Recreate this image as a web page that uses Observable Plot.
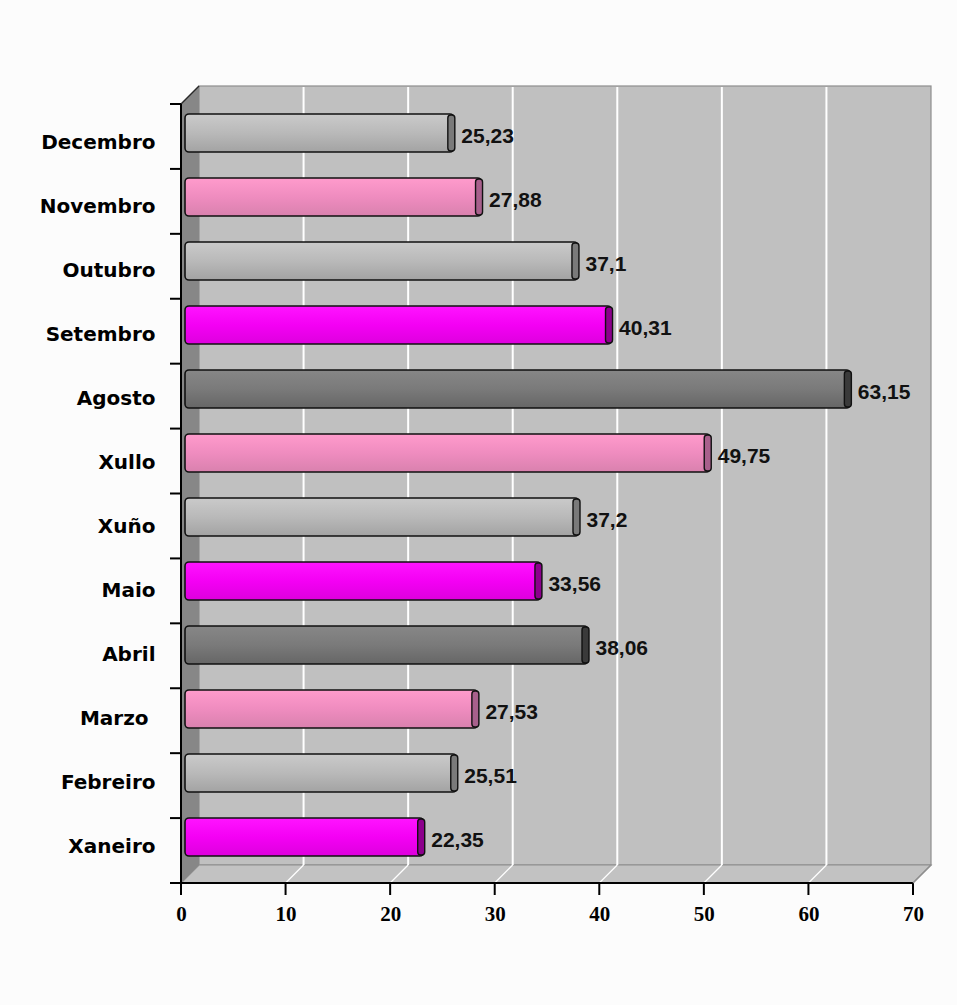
<!DOCTYPE html>
<html>
<head>
<meta charset="utf-8">
<script src="https://cdn.jsdelivr.net/npm/d3@7"></script>
<script src="https://cdn.jsdelivr.net/npm/@observablehq/plot@0.6"></script>
<style>
  html, body { margin: 0; padding: 0; background: #fcfcfc; }
  #chart svg { display: block; }
  #chart [aria-label^="y-axis"] text {
    font-family: "DejaVu Sans", sans-serif; font-weight: bold; font-size: 20px; fill: #000;
  }
  #chart [aria-label^="x-axis"] text {
    font-family: "Liberation Serif", serif; font-weight: bold; font-size: 21px; fill: #000;
  }
</style>
</head>
<body>
<div id="chart"></div>
<script>
// Monthly values, top row first
const months = ["Decembro", "Novembro", "Outubro", "Setembro", "Agosto", "Xullo", "Xuño", "Maio", "Abril", "Marzo\u00a0", "Febreiro", "Xaneiro"];
const values = [25.23, 27.88, 37.1, 40.31, 63.15, 49.75, 37.2, 33.56, 38.06, 27.53, 25.51, 22.35];
const shades = ["silver", "pink", "silver", "magenta", "gray", "pink", "silver", "magenta", "gray", "pink", "silver", "magenta"];
const xTicks = [0, 10, 20, 30, 40, 50, 60, 70];

// Cylinder shading per colour: top, middle, bottom of the body, and the end cap
const palette = {
  silver:  {top: "#cacaca", mid: "#b9b9b9", bottom: "#a3a3a3", cap: "#7a7a7a"},
  pink:    {top: "#ff9bcc", mid: "#ef8cbf", bottom: "#d981ae", cap: "#a8608c"},
  magenta: {top: "#ff14ff", mid: "#f400f4", bottom: "#de00de", cap: "#8c008c"},
  gray:    {top: "#878787", mid: "#7a7a7a", bottom: "#666666", cap: "#3a3a3a"}
};

const data = months.map((month, i) => ({month, value: values[i], shade: shades[i]}));
const fmt = v => String(v).replace(".", ",");

// depth of the 3D box (pixels)
const DX = 18, DY = -18;

const W = 957, H = 1005;
const M = {top: 104, right: 44, bottom: 122, left: 181};

function gradients() {
  const defs = d3.create("svg:defs");
  for (const [name, c] of Object.entries(palette)) {
    const g = defs.append("linearGradient").attr("id", "g-" + name)
      .attr("x1", 0).attr("y1", 0).attr("x2", 0).attr("y2", 1);
    g.append("stop").attr("offset", "0%").attr("stop-color", c.top);
    g.append("stop").attr("offset", "50%").attr("stop-color", c.mid);
    g.append("stop").attr("offset", "100%").attr("stop-color", c.bottom);
  }
  return defs.node();
}

// Walls, floor, gridlines and the two axis lines with their ticks
function box(index, scales, channels, dims) {
  const x = scales.x;
  const top = dims.marginTop, bottom = dims.height - dims.marginBottom;
  const bw = (bottom - top) / months.length;
  const x0 = x(0), x1 = x(70);
  const g = d3.create("svg:g");

  // back wall
  g.append("rect")
    .attr("x", x0 + DX).attr("y", top + DY)
    .attr("width", x1 - x0).attr("height", bottom - top)
    .attr("fill", "#c0c0c0").attr("stroke", "#8e8e8e").attr("stroke-width", 1.2);
  // floor
  g.append("path")
    .attr("d", `M${x0},${bottom}L${x1},${bottom}L${x1 + DX},${bottom + DY}L${x0 + DX},${bottom + DY}Z`)
    .attr("fill", "#c2c2c2").attr("stroke", "#8e8e8e").attr("stroke-width", 1.2);
  // gridlines on the wall and the floor
  for (const v of xTicks.slice(1, -1)) {
    g.append("line").attr("x1", x(v) + DX).attr("x2", x(v) + DX)
      .attr("y1", top + DY + 1).attr("y2", bottom + DY)
      .attr("stroke", "#ffffff").attr("stroke-width", 2);
    g.append("line").attr("x1", x(v)).attr("x2", x(v) + DX)
      .attr("y1", bottom).attr("y2", bottom + DY)
      .attr("stroke", "#ffffff").attr("stroke-width", 1.2);
  }
  // left side wall
  g.append("path")
    .attr("d", `M${x0},${top}L${x0 + DX},${top + DY}L${x0 + DX},${bottom + DY}L${x0},${bottom}Z`)
    .attr("fill", "#878787");
  g.append("line").attr("x1", x0).attr("y1", top).attr("x2", x0 + DX).attr("y2", top + DY)
    .attr("stroke", "#2a2a2a").attr("stroke-width", 1.5);

  // axis lines
  g.append("line").attr("x1", x0).attr("x2", x0).attr("y1", top).attr("y2", bottom + 12)
    .attr("stroke", "#000").attr("stroke-width", 2);
  g.append("line").attr("x1", x0 - 11).attr("x2", x1).attr("y1", bottom).attr("y2", bottom)
    .attr("stroke", "#000").attr("stroke-width", 2);
  // category boundary ticks
  for (let i = 0; i <= months.length; i++) {
    const yy = top + i * bw;
    g.append("line").attr("x1", x0 - 11).attr("x2", x0).attr("y1", yy).attr("y2", yy)
      .attr("stroke", "#000").attr("stroke-width", 2);
  }
  // value ticks
  for (const v of xTicks) {
    g.append("line").attr("x1", x(v)).attr("x2", x(v)).attr("y1", bottom).attr("y2", bottom + 12)
      .attr("stroke", "#000").attr("stroke-width", 2);
  }
  // right edge of the floor rim
  g.append("line").attr("x1", x1).attr("y1", bottom).attr("x2", x1 + DX).attr("y2", bottom + DY)
    .attr("stroke", "#8e8e8e").attr("stroke-width", 1.2);
  return g.node();
}

const chart = Plot.plot({
  width: W,
  height: H,
  marginTop: M.top,
  marginRight: M.right,
  marginBottom: M.bottom,
  marginLeft: M.left,
  style: {background: "#fcfcfc", color: "#000"},
  x: {domain: [0, 70], ticks: xTicks, tickSize: 0, tickPadding: 23, label: null, tickFormat: d => String(d)},
  y: {domain: months, padding: 0, tickSize: 0, tickPadding: 26, label: null},
  color: {type: "identity"},
  marks: [
    gradients,
    box,
    // cylinder bodies
    Plot.barX(data, {
      x1: 0, x2: "value", y: "month",
      fill: d => `url(#g-${d.shade})`,
      stroke: "#111", strokeWidth: 1.6, rx: 4,
      insetTop: 13, insetBottom: 13, insetLeft: 4, insetRight: -9,
      dy: -9
    }),
    // end caps
    Plot.barX(data, {
      x1: "value", x2: "value", y: "month",
      fill: d => palette[d.shade].cap,
      stroke: "#111", strokeWidth: 1.4, rx: 3,
      insetTop: 14, insetBottom: 14, insetLeft: 3, insetRight: -10,
      dy: -9
    }),
    // value labels
    Plot.text(data, {
      x: "value", y: "month", text: d => fmt(d.value),
      textAnchor: "start", dx: 16, dy: -6,
      fontFamily: "Liberation Sans, Arial, sans-serif", fontWeight: "bold", fontSize: 21, fill: "#111"
    })
  ]
});

document.getElementById("chart").append(chart);
</script>
</body>
</html>
